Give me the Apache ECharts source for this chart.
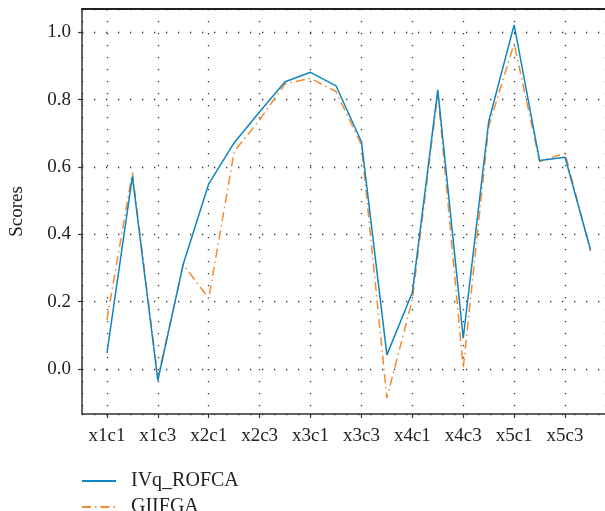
<!DOCTYPE html>
<html>
<head>
<meta charset="utf-8">
<script src="https://cdn.jsdelivr.net/npm/echarts@6/dist/echarts.min.js"></script>
<style>html,body{margin:0;padding:0;background:#fff;}#c{width:605px;height:511px;}</style>
</head>
<body>
<div id="c"></div>
<script>
const categories = ['x1c1','x1c2','x1c3','x1c4','x2c1','x2c2','x2c3','x2c4','x3c1','x3c2','x3c3','x3c4','x4c1','x4c2','x4c3','x4c4','x5c1','x5c2','x5c3','x5c4'];
const seriesNames = ['IVq_ROFCA', 'GIIFGA'];
const ivqRofca = [0.047, 0.572, -0.034, 0.312, 0.55, 0.672, 0.764, 0.853, 0.881, 0.841, 0.675, 0.042, 0.227, 0.829, 0.092, 0.735, 1.022, 0.619, 0.629, 0.354];
const giifga   = [0.146, 0.583, -0.025, 0.31, 0.21, 0.646, 0.74, 0.847, 0.863, 0.824, 0.665, -0.086, 0.206, 0.819, 0.003, 0.72, 0.967, 0.616, 0.641, 0.35];
const yTicks = [0.0, 0.2, 0.4, 0.6, 0.8, 1.0];

const FONT = '"Times New Roman", "Liberation Serif", Times, serif';
const chart = echarts.init(document.getElementById('c'), null, {renderer: 'canvas'});
const toPairs = arr => arr.map((v, i) => [i, v]);
const dotted = {color: '#333', width: 1.3, type: [1.3, 10.7]};
const legendBase = {
  orient: 'vertical', left: 81, padding: 0, itemWidth: 34, itemHeight: 14,
  itemStyle: {opacity: 0},
  textStyle: {fontFamily: FONT, fontSize: 20, color: '#222', padding: [0, 0, 0, 10]}
};

chart.setOption({
  animation: false,
  backgroundColor: '#fff',
  grid: {left: 81, top: 9, width: 524, height: 405, containLabel: false},
  legend: [
    Object.assign({}, legendBase, {top: 471, data: [seriesNames[0]]}),
    Object.assign({}, legendBase, {top: 497, data: [seriesNames[1]]})
  ],
  xAxis: [{
    type: 'value', min: -0.98, max: 19.57, splitNumber: 10, minInterval: 2, maxInterval: 2,
    axisLine: {show: true, onZero: false, lineStyle: {color: '#333', width: 1.5}},
    axisTick: {show: true, length: 4, lineStyle: {color: '#333', width: 1.2}},
    axisLabel: {
      showMinLabel: false, showMaxLabel: false, margin: 13,
      fontFamily: FONT, fontSize: 19, color: '#222',
      formatter: v => { const i = Math.round(v); return (Math.abs(v - i) < 1e-6 && categories[i]) ? categories[i] : ''; }
    },
    splitLine: {show: true, lineStyle: dotted}
  }, {
    type: 'value', position: 'top', min: -0.98, max: 19.57,
    axisLine: {show: true, onZero: false, lineStyle: {color: '#222', width: 2}},
    axisTick: {show: false}, axisLabel: {show: false}, splitLine: {show: false}
  }],
  yAxis: {
    type: 'value', min: -0.1335, max: 1.069, splitNumber: 6, minInterval: 0.2, maxInterval: 0.2,
    name: 'Scores', nameLocation: 'middle', nameGap: 55, nameRotate: 90,
    nameTextStyle: {fontFamily: FONT, fontSize: 19, color: '#222'},
    axisLine: {show: true, onZero: false, lineStyle: {color: '#333', width: 1.5}},
    axisTick: {show: true, length: 4, lineStyle: {color: '#333', width: 1.2}},
    axisLabel: {
      showMinLabel: false, showMaxLabel: false, margin: 11,
      fontFamily: FONT, fontSize: 19, color: '#222',
      formatter: v => { const t = yTicks.find(k => Math.abs(k - v) < 1e-6); return t === undefined ? '' : t.toFixed(1); }
    },
    splitLine: {show: true, lineStyle: dotted}
  },
  series: [{
    name: seriesNames[0], type: 'line', data: toPairs(ivqRofca), symbol: 'none', z: 3,
    itemStyle: {color: '#0f85c1'},
    lineStyle: {color: '#0f85c1', width: 1.5}
  }, {
    name: seriesNames[1], type: 'line', data: toPairs(giifga), symbol: 'none', z: 2,
    itemStyle: {color: '#f38b30'},
    lineStyle: {color: '#f38b30', width: 1.5, type: [9, 4, 1.5, 4]}
  }]
});
</script>
</body>
</html>
